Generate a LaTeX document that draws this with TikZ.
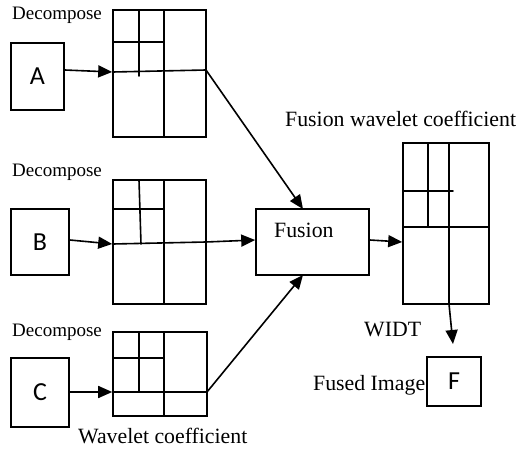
\documentclass[tikz,border=0pt]{standalone}
\usepackage{fontspec}
\setmainfont{Liberation Serif}
\newfontfamily\letterfont{Carlito}
\usetikzlibrary{arrows.meta,calc}
\tikzset{
  ln/.style={line width=1.6pt, line cap=round},
  box/.style={draw, line width=1.6pt, inner sep=0pt, font=\letterfont\fontsize{26}{30}\selectfont},
  grid/.style={draw, line width=1.6pt, inner sep=0pt},
  arr/.style={ln, -{Triangle[length=14pt,width=12pt]}},
  lbl/.style={anchor=base west, inner sep=0pt, font=\fontsize{21.8}{24}\selectfont},
  declbl/.style={anchor=base west, inner sep=0pt, font=\fontsize{19}{22}\selectfont}
}
\begin{document}
\begin{tikzpicture}[x=1pt,y=-1pt]
\useasboundingbox (0,0) rectangle (520,449);

% input images
\node[box, minimum width=53pt, minimum height=67pt] (A) at (37.5,76.5) {A};
\node[box, minimum width=58pt, minimum height=66pt] (B) at (40,242) {B};
\node[box, minimum width=58pt, minimum height=69pt] (C) at (40,392.5) {C};

% decomposition grids
\node[grid, minimum width=93pt, minimum height=127pt] (gA) at (159.5,73.5) {};
\node[grid, minimum width=93pt, minimum height=124pt] (gB) at (159.5,242) {};
\node[grid, minimum width=94pt, minimum height=84pt] (gC) at (160,374) {};

% grid A subbands
\draw[ln] (164,10) -- (164,137);
\draw[ln] (113,72) -- (206,70);
\draw[ln] (113,42) -- (164,42);
\draw[ln] (139,10) -- (139,76);
% grid B subbands
\draw[ln] (164,180) -- (164,304);
\draw[ln] (113,244) -- (206,242);
\draw[ln] (113,209) -- (164,209);
\draw[ln] (139,180) -- (141,244);
% grid C subbands
\draw[ln] (164,332) -- (164,416);
\draw[ln] (113,392) -- (207,392);
\draw[ln] (113,358) -- (164,358);
\draw[ln] (139,332) -- (139,392);

% fusion block
\node[grid, minimum width=113pt, minimum height=66pt] (fus) at (312.5,242) {};
\node[lbl] (fustext) at (274,238) {Fusion};

% fused coefficient grid
\node[grid, minimum width=86pt, minimum height=161pt] (gF) at (446,223.5) {};
\draw[ln] (449,143) -- (449,304);
\draw[ln] (403,227) -- (489,227);
\draw[ln] (428,143) -- (428,227);
\draw[ln] (403,191) -- (453,191);

% output image
\node[box, minimum width=54pt, minimum height=49pt] (F) at (454,381.5) {F};

% named connector ends
\coordinate (aAout) at (206,70);
\coordinate (aBout) at (206,242);
\coordinate (aCout) at (207,392);
\coordinate (fusTop) at (303,209);
\coordinate (fusBot) at (303,275);
\coordinate (gFbot) at (449,304);
\coordinate (Ftop) at (453,344);

% connectors
\draw[arr] (A.east |- 0,70) -- (gA.west |- 0,72);
\draw[arr] (B.east |- 0,240) -- (gB.west |- 0,244);
\draw[arr] (C.east |- 0,392) -- (gC.west |- 0,392);
\draw[arr] (aAout) -- (fusTop);
\draw[arr] (aBout) -- (fus.west |- 0,240);
\draw[arr] (aCout) -- (fusBot);
\draw[arr] (fus.east |- 0,240) -- (gF.west |- 0,242);
\draw[arr] (gFbot) -- (Ftop);

% labels
\node[declbl] (d1) at (12,20) {Decompose};
\node[declbl] (d2) at (12,177) {Decompose};
\node[declbl] (d3) at (12,337) {Decompose};
\node[lbl] (wc) at (78,443) {Wavelet coefficient};
\node[lbl] (fwc) at (285,127) {Fusion wavelet coefficient};
\node[lbl] (widt) at (364,337) {WIDT};
\node[lbl] (fi) at (313,390) {Fused Image};
\end{tikzpicture}
\end{document}
